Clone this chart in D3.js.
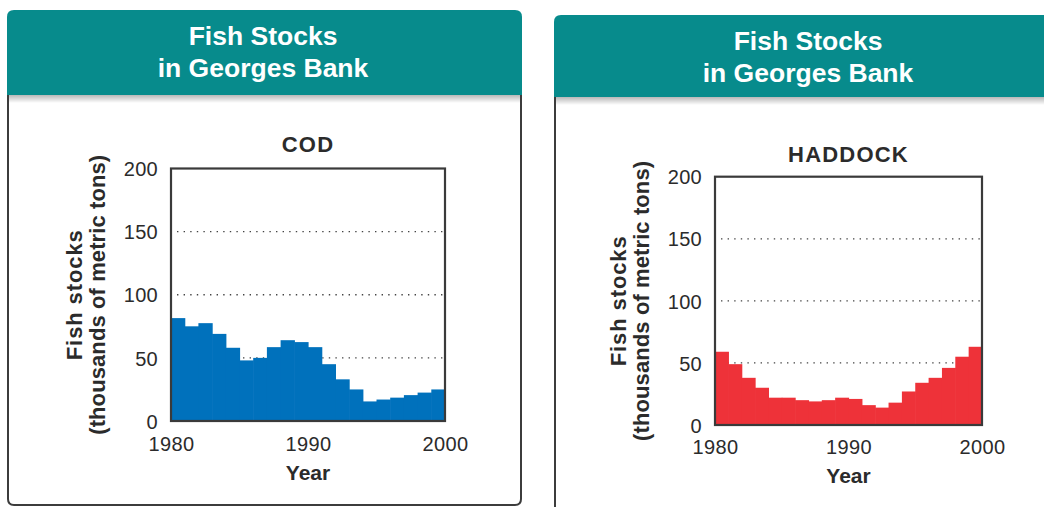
<!DOCTYPE html>
<html>
<head>
<meta charset="utf-8">
<script src="https://cdn.jsdelivr.net/npm/d3@7"></script>
<style>
  html, body { margin: 0; padding: 0; background: #fff; }
  svg { display: block; }
</style>
</head>
<body>
<svg id="chart" width="1044" height="507"></svg>
<script>
// ---- Data ----
const years = [1980,1981,1982,1983,1984,1985,1986,1987,1988,1989,1990,1991,1992,1993,1994,1995,1996,1997,1998,1999];
const codStocks = [81.5,75,77.5,69,58,48,50,58.5,64,62.5,58.5,45,33,25,15.5,17,18.5,20.5,22.5,25];
const haddockStocks = [59,49,38,30,22,22,20,19,20,22,21,16,14,18,27,34,38,46,55,63];
const yTicks = [0,50,100,150,200];
const xTicks = [1980,1990,2000];
const headerLines = ["Fish Stocks", "in Georges Bank"];
const yTitleLines = ["Fish stocks", "(thousands of metric tons)"];
const xTitle = "Year";

const svg = d3.select("#chart");
const FONT = "'Liberation Sans', Arial, Helvetica, sans-serif";
const TEAL = "#078b8c";

// shadow gradient
const defs = svg.append("defs");
const grad = defs.append("linearGradient").attr("id","shadow").attr("x1",0).attr("y1",0).attr("x2",0).attr("y2",1);
grad.append("stop").attr("offset","0%").attr("stop-color","#000").attr("stop-opacity",0.28);
grad.append("stop").attr("offset","100%").attr("stop-color","#000").attr("stop-opacity",0);

function topRounded(x,y,w,h,r){
  return `M${x},${y+h}V${y+r}Q${x},${y} ${x+r},${y}H${x+w-r}Q${x+w},${y} ${x+w},${y+r}V${y+h}Z`;
}

function drawPanel(p){
  const g = svg.append("g");
  g.append("path").attr("d", p.border).attr("fill","none").attr("stroke","#3c3c3c").attr("stroke-width",2);
  g.append("rect").attr("x",p.hx+2).attr("y",p.hy+p.hh).attr("width",p.hw-4).attr("height",8).attr("fill","url(#shadow)");
  g.append("path").attr("d", topRounded(p.hx,p.hy,p.hw,p.hh,7)).attr("fill",TEAL);
  g.selectAll("text.hdr").data(headerLines).join("text")
    .attr("class","hdr")
    .attr("x", p.tcx).attr("y",(d,i)=>p.tb0 + i*32)
    .attr("text-anchor","middle")
    .attr("fill","#fff").attr("font-family",FONT).attr("font-weight","bold").attr("font-size",26.5)
    .text(d=>d);
}

function drawChart(c){
  const g = svg.append("g");
  const x = d3.scaleLinear().domain([xTicks[0], xTicks[xTicks.length-1]]).range([c.left, c.right]);
  const y = d3.scaleLinear().domain([yTicks[0], yTicks[yTicks.length-1]]).range([c.bottom, c.top]);

  // gridlines
  g.selectAll("line.grid").data(yTicks.filter(t=>t>0 && t<200)).join("line")
    .attr("class","grid")
    .attr("x1", c.left+6).attr("x2", c.right-2)
    .attr("y1", d=>y(d)).attr("y2", d=>y(d))
    .attr("stroke","#444").attr("stroke-width",1.3).attr("stroke-dasharray","1.4,5.2");

  // step bars
  g.selectAll("rect.bar").data(years.map((yr,i)=>({yr, v:c.values[i]}))).join("rect")
    .attr("class","bar")
    .attr("x", d=>x(d.yr))
    .attr("width", d=>x(d.yr+1)-x(d.yr)+0.6)
    .attr("y", d=>y(d.v))
    .attr("height", d=>y(0)-y(d.v))
    .attr("fill", c.color);

  // frame
  g.append("rect").attr("x",c.left).attr("y",c.top).attr("width",c.right-c.left).attr("height",c.bottom-c.top)
    .attr("fill","none").attr("stroke","#3a3a3a").attr("stroke-width",2.2);

  // y axis
  const ya = g.append("g").attr("transform",`translate(${c.left},0)`)
    .call(d3.axisLeft(y).tickValues(yTicks).tickSize(0).tickPadding(13));
  ya.select(".domain").remove();
  ya.selectAll("text").attr("font-family",FONT).attr("font-size",20).attr("fill","#2b2b2b")
    .attr("letter-spacing","0.3px").attr("dy","0.36em");

  // x axis
  const xa = g.append("g").attr("transform",`translate(0,${c.bottom})`)
    .call(d3.axisBottom(x).tickValues(xTicks).tickFormat(d3.format("d")).tickSize(0).tickPadding(c.xpad));
  xa.select(".domain").remove();
  xa.selectAll("text").attr("font-family",FONT).attr("font-size",20).attr("fill","#2b2b2b").attr("letter-spacing","0.4px");

  // title
  g.append("text").attr("x",(c.left+c.right)/2).attr("y",c.titleY).attr("text-anchor","middle")
    .attr("font-family",FONT).attr("font-weight","bold").attr("font-size",22).attr("letter-spacing","1.2px")
    .attr("fill","#2b2b2b").text(c.title);

  // x title
  g.append("text").attr("x",(c.left+c.right)/2).attr("y",c.xTitleY).attr("text-anchor","middle")
    .attr("font-family",FONT).attr("font-weight","bold").attr("font-size",21)
    .attr("fill","#2b2b2b").text(xTitle);

  // y title (two lines, rotated)
  const cy = (c.top+c.bottom)/2;
  const ls = ["0.9px","0.1px"];
  yTitleLines.forEach((t,i)=>{
    const bx = c.left - 89 + i*23;
    g.append("text").attr("transform",`translate(${bx},${cy}) rotate(-90)`)
      .attr("text-anchor","middle")
      .attr("font-family",FONT).attr("font-weight","bold").attr("font-size",22).attr("letter-spacing",ls[i])
      .attr("fill","#2b2b2b").text(t);
  });
}

drawPanel({hx:7, hy:10, hw:515, hh:85, tcx:263, tb0:45,
  border:"M8,95 V499 Q8,505 14,505 H515 Q521,505 521,499 V95"});
drawPanel({hx:554, hy:15, hw:520, hh:82, tcx:808, tb0:50,
  border:"M555,97 V508"});

drawChart({left:171, right:445, top:168.5, bottom:421, values:codStocks, color:"#0071bc",
  title:"COD", titleY:152, xTitleY:480, xpad:16});
drawChart({left:715, right:982, top:176.7, bottom:425, values:haddockStocks, color:"#ee3239",
  title:"HADDOCK", titleY:162, xTitleY:483, xpad:15});
</script>
</body>
</html>
